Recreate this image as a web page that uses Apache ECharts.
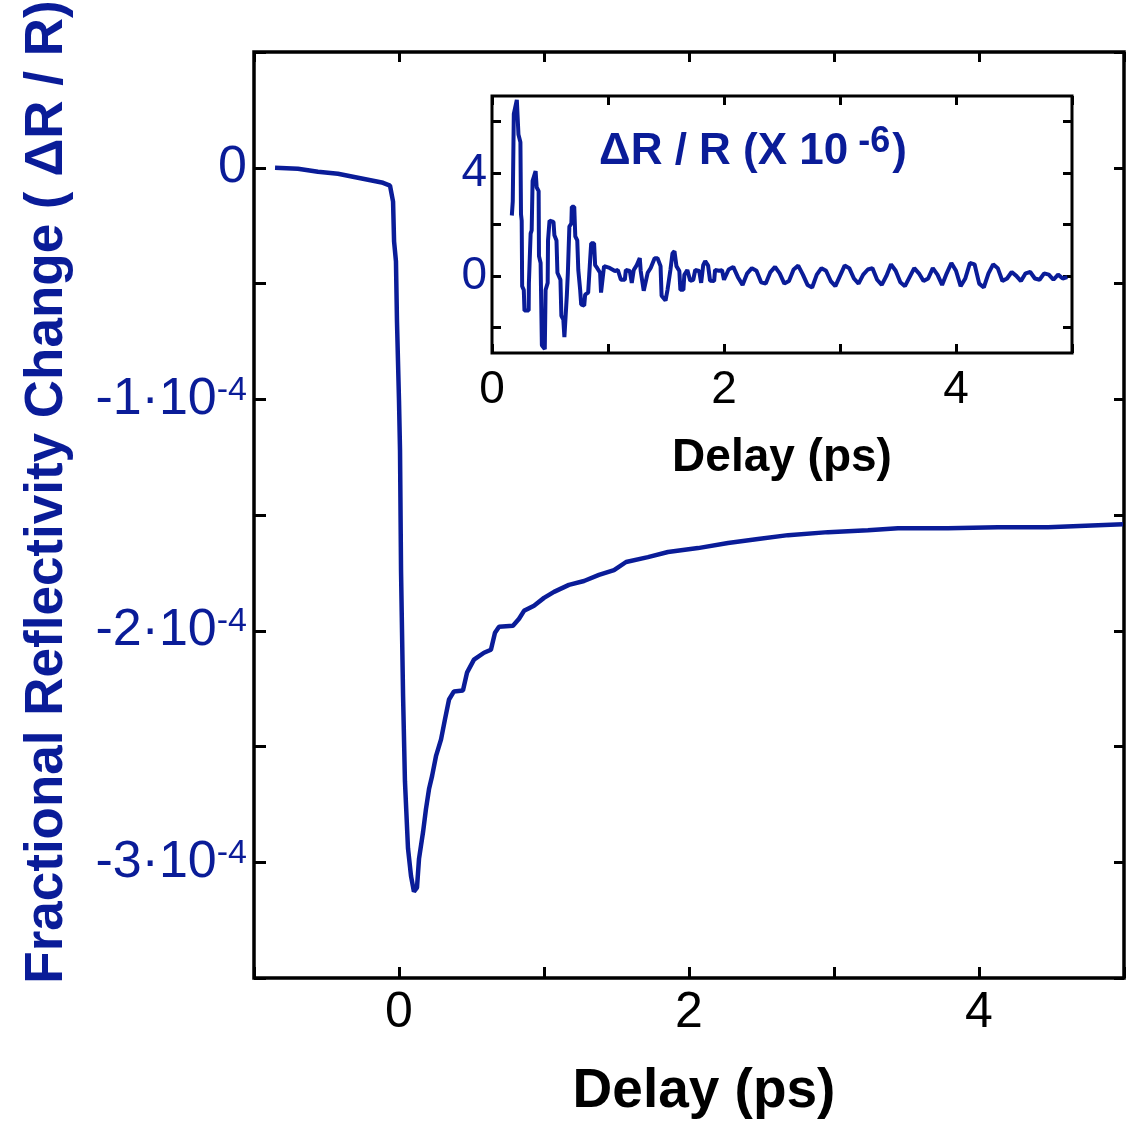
<!DOCTYPE html>
<html>
<head>
<meta charset="utf-8">
<script src="https://cdn.jsdelivr.net/npm/echarts@6/dist/echarts.min.js"></script>
<style>html,body{margin:0;padding:0;background:#fff}#c{width:1126px;height:1121px}</style>
</head>
<body>
<div id="c"></div>
<script>
// Main curve: delay (ps) and dR/R in units of 1e-4
const mainX = [-0.855, -0.697, -0.559, -0.421, -0.283, -0.179, -0.110, -0.062, -0.041, -0.034, -0.021, -0.014, 0.0, 0.007, 0.014, 0.028, 0.041, 0.062, 0.083, 0.103, 0.124, 0.138, 0.166, 0.186, 0.207, 0.228, 0.255, 0.290, 0.317, 0.345, 0.379, 0.441, 0.469, 0.517, 0.586, 0.634, 0.662, 0.690, 0.786, 0.828, 0.862, 0.931, 1.0, 1.069, 1.172, 1.276, 1.379, 1.483, 1.566, 1.717, 1.855, 2.062, 2.269, 2.476, 2.683, 2.959, 3.234, 3.441, 3.786, 4.131, 4.476, 4.821, 4.993];
const mainY = [0.0, -0.004, -0.017, -0.026, -0.043, -0.056, -0.065, -0.077, -0.146, -0.318, -0.404, -0.662, -1.006, -1.22, -1.74, -2.28, -2.65, -2.94, -3.06, -3.127, -3.11, -2.985, -2.869, -2.77, -2.684, -2.628, -2.542, -2.469, -2.383, -2.297, -2.262, -2.258, -2.181, -2.125, -2.095, -2.082, -2.009, -1.983, -1.978, -1.948, -1.914, -1.892, -1.858, -1.832, -1.802, -1.785, -1.759, -1.738, -1.703, -1.682, -1.660, -1.643, -1.621, -1.604, -1.587, -1.574, -1.566, -1.557, -1.557, -1.553, -1.553, -1.544, -1.540];

// Inset: oscillatory part, dR/R in units of 1e-6
const insetX = [0.171, 0.179, 0.188, 0.214, 0.228, 0.245, 0.250, 0.256, 0.260, 0.274, 0.280, 0.316, 0.318, 0.333, 0.342, 0.350, 0.376, 0.385, 0.402, 0.405, 0.419, 0.430, 0.455, 0.462, 0.480, 0.483, 0.496, 0.530, 0.538, 0.556, 0.564, 0.590, 0.598, 0.615, 0.624, 0.635, 0.645, 0.654, 0.667, 0.684, 0.688, 0.709, 0.718, 0.735, 0.744, 0.760, 0.769, 0.795, 0.803, 0.829, 0.846, 0.855, 0.880, 0.889, 0.906, 0.932, 0.940, 0.957, 0.966, 1.014, 1.060, 1.085, 1.111, 1.145, 1.154, 1.188, 1.205, 1.222, 1.248, 1.274, 1.282, 1.308, 1.325, 1.342, 1.368, 1.402, 1.427, 1.453, 1.462, 1.496, 1.513, 1.538, 1.556, 1.573, 1.590, 1.615, 1.624, 1.650, 1.658, 1.684, 1.709, 1.735, 1.752, 1.786, 1.803, 1.821, 1.838, 1.863, 1.880, 1.915, 1.923, 1.957, 1.983,
  2.00, 2.04, 2.08, 2.12, 2.16, 2.20, 2.24, 2.28, 2.32, 2.36, 2.40, 2.44, 2.48, 2.52, 2.56, 2.60, 2.64, 2.68, 2.72, 2.76, 2.80, 2.84, 2.88, 2.92, 2.96, 3.00, 3.04, 3.08, 3.12, 3.16, 3.20, 3.24, 3.28, 3.32, 3.36, 3.40, 3.44, 3.48, 3.52, 3.56, 3.60, 3.64, 3.68, 3.72, 3.76, 3.80, 3.84, 3.88, 3.92, 3.96, 4.00, 4.04, 4.08, 4.12, 4.16, 4.20, 4.24, 4.28, 4.32, 4.36, 4.40, 4.44, 4.48, 4.52, 4.56, 4.60, 4.64, 4.68, 4.72, 4.76, 4.80, 4.84, 4.88, 4.92, 4.96];
const insetY = [2.35, 2.9, 6.3, 6.85, 5.5, 5.2, 2.4, 2.15, -0.4, -0.55, -1.35, -1.35, -0.3, 1.65, 1.77, 3.7, 4.08, 3.45, 3.3, 0.77, 0.5, -2.7, -2.85, -0.55, -0.27, 1.38, 2.15, 2.1, 1.58, 1.38, 0.12, -0.15, -1.55, -1.7, -2.38, -2.38, -0.77, 0.12, 1.92, 2.04, 2.69, 2.69, 1.54, 1.38, 0.23, -0.54, -1.12, -1.15, -0.73, -0.65, 0.62, 1.27, 1.27, 0.42, 0.31, 0.12, -0.65, -0.65, 0.38, 0.31, 0.19, 0.23, -0.15, -0.15, 0.23, 0.19, -0.27, 0.23, 0.42, 0.69, 0.19, -0.58, -0.62, 0.12, 0.31, 0.69, 0.69, 0.38, -0.77, -0.96, -0.54, 0.23, 0.88, 0.96, 0.38, 0.19, -0.54, -0.54, 0.04, 0.23, -0.19, -0.15, 0.23, 0.19, -0.27, 0.42, 0.58, 0.4, -0.19, -0.2, 0.23, 0.2, 0.22,
  -0.15, 0.25, 0.35, -0.05, -0.35, 0.1, 0.3, 0.2, -0.25, -0.3, 0.15, 0.35, 0.1, -0.3, -0.2, 0.25, 0.4, 0.05, -0.35, -0.45, 0.05, 0.3, 0.2, -0.2, -0.4, 0.0, 0.4, 0.3, -0.1, -0.3, 0.05, 0.25, 0.3, -0.15, -0.35, 0.0, 0.45, 0.2, -0.25, -0.4, -0.05, 0.3, 0.1, -0.2, -0.1, 0.3, 0.05, -0.35, 0.1, 0.5, 0.2, -0.4, -0.1, 0.5, 0.45, -0.3, -0.45, 0.1, 0.45, 0.3, -0.2, -0.1, 0.15, 0.0, -0.2, 0.1, 0.15, -0.1, -0.15, 0.1, 0.05, -0.15, 0.05, -0.1, -0.05];

const mainXTickLabels = [0, 2, 4];
const insetXTickLabels = [0, 2, 4];
const insetYTicks = [-2, 0, 2, 4, 6];
const insetYTickLabels = [0, 4];

const BLUE = '#0a1c98';
const FF = '"Liberation Sans", Arial, Helvetica, sans-serif';

const chart = echarts.init(document.getElementById('c'));

function xLab(list) {
  return function (v) { return list.indexOf(Math.round(v * 1000) / 1000) >= 0 ? String(v) : ''; };
}
const noLine = { show: false, onZero: false };

const option = {
  animation: false,
  backgroundColor: '#fff',
  title: {
    left: 594, top: 119,
    text: '{a|ΔR / R (X 10}{s| -6}{a|)}',
    textStyle: {
      rich: {
        a: { fontSize: 44, fontWeight: 'bold', color: BLUE, fontFamily: FF },
        s: { fontSize: 36, fontWeight: 'bold', color: BLUE, fontFamily: FF, verticalAlign: 'top', padding: [0, 2, 20, 0] }
      }
    }
  },
  grid: [
    { left: 254, top: 52, right: 2, bottom: 143, outerBoundsMode: 'none', containLabel: false, show: true, borderColor: '#000', borderWidth: 3.5, backgroundColor: 'transparent' },
    { left: 492, top: 96, right: 54, bottom: 768, outerBoundsMode: 'none', containLabel: false, show: true, borderColor: '#000', borderWidth: 3, backgroundColor: '#fff' }
  ],
  xAxis: [
    { type: 'value', gridIndex: 0, min: -1, max: 5, interval: 1, position: 'bottom',
      axisLine: noLine, splitLine: { show: false },
      axisTick: { inside: true, length: 11, lineStyle: { color: '#000', width: 3 } },
      axisLabel: { formatter: xLab(mainXTickLabels), color: '#000', fontSize: 50, fontFamily: FF, margin: 10 },
      name: 'Delay (ps)', nameLocation: 'middle', nameGap: 86,
      nameTextStyle: { fontSize: 55, fontWeight: 'bold', color: '#000', fontFamily: FF, padding: [0, 0, 0, 30] } },
    { type: 'value', gridIndex: 0, min: -1, max: 5, interval: 1, position: 'top',
      axisLine: noLine, splitLine: { show: false },
      axisTick: { inside: true, length: 10, lineStyle: { color: '#000', width: 3 } },
      axisLabel: { show: false } },
    { type: 'value', gridIndex: 1, min: 0, max: 5, interval: 1, position: 'bottom',
      axisLine: noLine, splitLine: { show: false },
      axisTick: { inside: true, length: 9, lineStyle: { color: '#000', width: 3 } },
      axisLabel: { formatter: xLab(insetXTickLabels), color: '#000', fontSize: 46, fontFamily: FF, margin: 14 },
      name: 'Delay (ps)', nameLocation: 'middle', nameGap: 82,
      nameTextStyle: { fontSize: 46, fontWeight: 'bold', color: '#000', fontFamily: FF } },
    { type: 'value', gridIndex: 1, min: 0, max: 5, interval: 1, position: 'top',
      axisLine: noLine, splitLine: { show: false },
      axisTick: { inside: true, length: 9, lineStyle: { color: '#000', width: 3 } },
      axisLabel: { show: false } }
  ],
  yAxis: [
    { type: 'value', gridIndex: 0, min: -3.5, max: 0.5, interval: 0.5, position: 'left',
      axisLine: noLine, splitLine: { show: false },
      axisTick: { inside: true, length: 12, lineStyle: { color: '#000', width: 3 } },
      axisLabel: {
        margin: 7, color: BLUE,
        formatter: function (v) {
          if (Math.abs(v - Math.round(v)) > 1e-9) return '';
          if (Math.round(v) === 0) return '{b|0}';
          return '{b|' + Math.round(v) + '·10}{s|-4}';
        },
        rich: {
          b: { fontSize: 52, color: BLUE, fontFamily: FF },
          s: { fontSize: 34, color: BLUE, fontFamily: FF, verticalAlign: 'top', padding: [0, 0, 18, 0] }
        }
      },
      name: 'Fractional Reflectivity Change ( ΔR / R)', nameLocation: 'middle', nameGap: 180,
      nameTextStyle: { fontSize: 53, fontWeight: 'bold', color: BLUE, fontFamily: FF, padding: [0, 0, 0, 46] } },
    { type: 'value', gridIndex: 0, min: -3.5, max: 0.5, interval: 0.5, position: 'right',
      axisLine: noLine, splitLine: { show: false },
      axisTick: { inside: true, length: 10, lineStyle: { color: '#000', width: 3 } },
      axisLabel: { show: false } },
    { type: 'value', gridIndex: 1, min: -3, max: 7, position: 'left',
      axisLine: noLine, splitLine: { show: false },
      axisTick: { inside: true, length: 9, customValues: insetYTicks, lineStyle: { color: '#000', width: 3 } },
      axisLabel: { customValues: insetYTickLabels, color: BLUE, fontSize: 46, fontFamily: FF, margin: 5 } },
    { type: 'value', gridIndex: 1, min: -3, max: 7, position: 'right',
      axisLine: noLine, splitLine: { show: false },
      axisTick: { inside: true, length: 9, customValues: insetYTicks, lineStyle: { color: '#000', width: 3 } },
      axisLabel: { show: false } }
  ],
  series: [
    { type: 'line', xAxisIndex: 0, yAxisIndex: 0, showSymbol: false, symbol: 'none',
      lineStyle: { color: BLUE, width: 4.5 }, data: mainX.map((x, i) => [x, mainY[i]]) },
    { type: 'line', xAxisIndex: 2, yAxisIndex: 2, showSymbol: false, symbol: 'none', z: 5,
      lineStyle: { color: BLUE, width: 4 }, data: insetX.map((x, i) => [x, insetY[i]]) }
  ]
};
chart.setOption(option);
</script>
</body>
</html>
